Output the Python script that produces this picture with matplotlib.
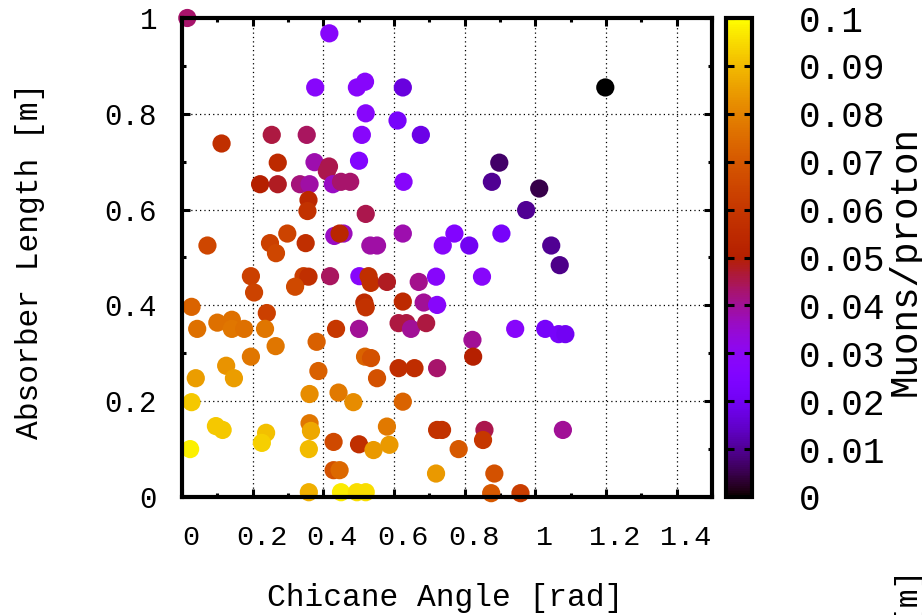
import matplotlib
matplotlib.use("Agg")
import matplotlib.pyplot as plt
import matplotlib.transforms as mtransforms
from matplotlib.ticker import MultipleLocator, FormatStrFormatter
import numpy as np

plt.rcParams['font.family'] = ['Liberation Mono', 'DejaVu Sans Mono']

# chicane angle [rad], absorber length [m], muons/proton
angle = [0.015, 0.417, 0.377, 0.495, 0.518, 0.625, 0.520, 0.610, 0.676, 0.112,
         0.254, 0.353, 0.509, 0.271, 0.375, 0.416, 0.410, 0.501, 0.221, 0.271,
         0.334, 0.361, 0.427, 0.450, 0.476, 0.627, 0.358, 0.355, 0.520, 0.625,
         0.771, 0.431, 0.457, 0.446, 0.072, 0.249, 0.266, 0.298, 0.350, 0.533,
         0.552, 0.738,
         1.198, 0.898, 0.877, 1.011, 0.974, 0.813, 0.904, 1.045, 1.069, 0.849,
         0.943, 1.028, 1.066, 1.085, 0.822, 0.824, 0.856, 0.852, 1.078, 0.783,
         0.884, 0.875, 0.958,
         0.195, 0.204, 0.344, 0.358, 0.320, 0.419, 0.502, 0.528, 0.534, 0.580,
         0.670, 0.719, 0.027, 0.240, 0.516, 0.520, 0.625, 0.684, 0.722, 0.043,
         0.100, 0.141, 0.141, 0.176, 0.235, 0.436, 0.501, 0.613, 0.635, 0.648,
         0.691, 0.381, 0.265, 0.195, 0.518, 0.535, 0.386, 0.552, 0.613, 0.658,
         0.722, 0.125, 0.147, 0.039, 0.361, 0.443, 0.485, 0.625, 0.027, 0.096,
         0.115, 0.238, 0.226, 0.361, 0.365, 0.359, 0.429, 0.501, 0.542, 0.580,
         0.587, 0.722, 0.736, 0.023, 0.429, 0.446, 0.719, 0.359, 0.450, 0.495,
         0.520]
length = [1.000, 0.968, 0.855, 0.855, 0.867, 0.855, 0.801, 0.786, 0.756, 0.738,
          0.756, 0.756, 0.756, 0.698, 0.699, 0.690, 0.680, 0.702, 0.653, 0.653,
          0.653, 0.653, 0.653, 0.658, 0.658, 0.658, 0.620, 0.597, 0.591, 0.550,
          0.550, 0.545, 0.550, 0.550, 0.525, 0.530, 0.509, 0.550, 0.530, 0.525,
          0.525, 0.525,
          0.855, 0.698, 0.658, 0.644, 0.599, 0.525, 0.550, 0.525, 0.484, 0.460,
          0.351, 0.351, 0.340, 0.340, 0.328, 0.293, 0.140, 0.119, 0.140, 0.100,
          0.049, 0.008, 0.008,
          0.461, 0.427, 0.461, 0.460, 0.439, 0.461, 0.461, 0.461, 0.447, 0.449,
          0.449, 0.460, 0.397, 0.384, 0.406, 0.396, 0.408, 0.406, 0.401, 0.351,
          0.364, 0.370, 0.351, 0.351, 0.351, 0.351, 0.351, 0.363, 0.363, 0.351,
          0.363, 0.324, 0.315, 0.293, 0.293, 0.290, 0.263, 0.248, 0.269, 0.269,
          0.269, 0.274, 0.248, 0.248, 0.215, 0.218, 0.198, 0.199, 0.198, 0.148,
          0.140, 0.134, 0.113, 0.154, 0.138, 0.100, 0.115, 0.110, 0.098, 0.147,
          0.109, 0.140, 0.140, 0.100, 0.056, 0.056, 0.049, 0.010, 0.010, 0.010,
          0.010]
muons = [0.043, 0.028, 0.028, 0.028, 0.028, 0.017, 0.028, 0.022, 0.018, 0.057,
         0.046, 0.044, 0.028, 0.055, 0.038, 0.045, 0.045, 0.026, 0.050, 0.048,
         0.042, 0.039, 0.036, 0.043, 0.043, 0.028, 0.054, 0.058, 0.045, 0.038,
         0.026, 0.036, 0.037, 0.053, 0.065, 0.063, 0.065, 0.064, 0.057, 0.039,
         0.039, 0.028,
         0.000, 0.007, 0.010, 0.005, 0.010, 0.020, 0.022, 0.010, 0.009, 0.028,
         0.028, 0.022, 0.022, 0.020, 0.040, 0.050, 0.045, 0.060, 0.040, 0.070,
         0.068, 0.070, 0.062,
         0.063, 0.064, 0.062, 0.057, 0.066, 0.044, 0.028, 0.057, 0.057, 0.048,
         0.041, 0.028, 0.073, 0.063, 0.055, 0.058, 0.055, 0.040, 0.028, 0.076,
         0.076, 0.076, 0.077, 0.076, 0.077, 0.060, 0.040, 0.046, 0.046, 0.040,
         0.046, 0.072, 0.077, 0.077, 0.073, 0.068, 0.072, 0.068, 0.056, 0.056,
         0.043, 0.083, 0.085, 0.085, 0.082, 0.078, 0.082, 0.073, 0.092, 0.092,
         0.092, 0.091, 0.093, 0.077, 0.087, 0.090, 0.066, 0.057, 0.084, 0.078,
         0.084, 0.058, 0.058, 0.098, 0.068, 0.074, 0.084, 0.088, 0.097, 0.095,
         0.095]

fig = plt.figure(figsize=(9.22, 6.15), dpi=100)
ax = fig.add_axes([182 / 922, 1 - 497 / 615, 530 / 922, 479 / 615])

sc = ax.scatter(angle, length, c=muons, cmap='gnuplot', vmin=0, vmax=0.1,
                s=172, edgecolors='none', clip_on=False, zorder=2)

ax.set_xlim(0, 1.5)
ax.set_ylim(0, 1)
ax.xaxis.set_major_locator(MultipleLocator(0.2))
ax.xaxis.set_minor_locator(MultipleLocator(0.1))
ax.yaxis.set_major_locator(MultipleLocator(0.2))
ax.yaxis.set_minor_locator(MultipleLocator(0.1))
ax.xaxis.set_major_formatter(FormatStrFormatter('%g'))
ax.yaxis.set_major_formatter(FormatStrFormatter('%g'))
ax.set_xticks([0, 0.2, 0.4, 0.6, 0.8, 1.0, 1.2, 1.4])
ax.grid(True, which='major', color='black', linestyle=(0, (1, 2.5)), linewidth=0.9)
ax.set_axisbelow(True)

ax.tick_params(which='both', direction='in', top=True, right=True, width=2.2)
ax.tick_params(which='major', length=6)
ax.tick_params(which='minor', length=3)
ax.tick_params(axis='x', which='major', labelsize=20.5, pad=20)
ax.tick_params(axis='y', which='major', labelsize=21, pad=18)
for sp in ax.spines.values():
    sp.set_linewidth(3)
    sp.set_zorder(3)

shift = mtransforms.ScaledTranslation(0.09, 0, fig.dpi_scale_trans)
for lab in ax.get_xticklabels():
    lab.set_transform(lab.get_transform() + shift)

cax = fig.add_axes([726 / 922, 1 - 497 / 615, 26 / 922, 479 / 615])
cb = fig.colorbar(sc, cax=cax, ticks=np.arange(0, 0.101, 0.01))
cb.ax.yaxis.set_major_formatter(FormatStrFormatter('%g'))
cb.outline.set_linewidth(3)
cax.tick_params(direction='in', left=True, right=True, length=6, width=2.2,
                labelsize=26, pad=34)
cax.minorticks_off()

fig.text(30 / 922, 1 - 261 / 615, "Absorber Length [m]", rotation=90,
         ha='center', va='center', fontsize=22.5)
fig.text(445 / 922, 1 - 598 / 615, "Chicane Angle [rad]",
         ha='center', va='center', fontsize=22.5)
fig.text(906 / 922, 1 - 261 / 615, "Muons/proton", rotation=90,
         ha='center', va='center', fontsize=27)
fig.text(910 / 922, 1 - 570 / 615, "Absorber Length [m]", rotation=90,
         ha='center', va='top', fontsize=22.5)

fig.savefig("out.png", dpi=100)
